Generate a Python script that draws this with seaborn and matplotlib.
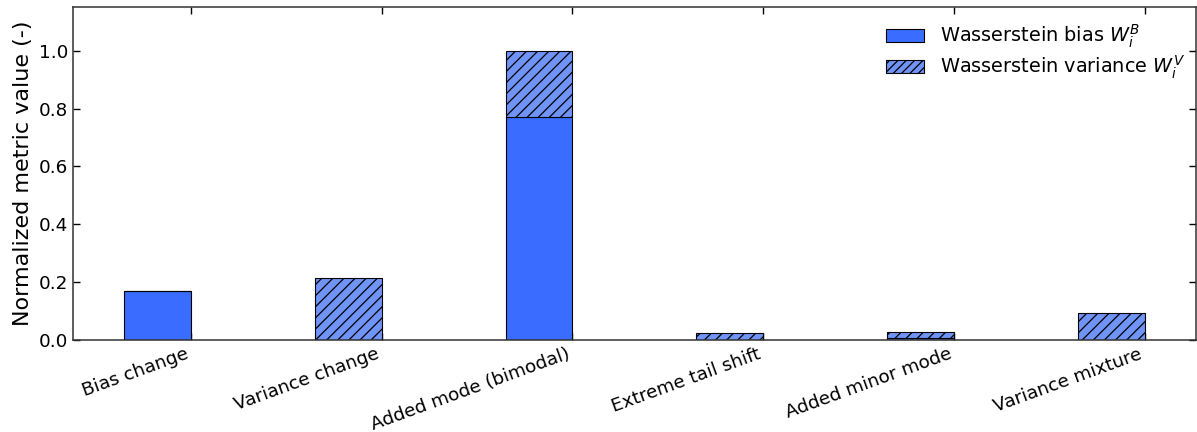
import numpy as np
import pandas as pd
import matplotlib
matplotlib.use("Agg")
import matplotlib.pyplot as plt
from matplotlib.patches import Patch
import seaborn as sns

# Scenario names and normalized Wasserstein components
scenarios = ["Bias change", "Variance change", "Added mode (bimodal)",
             "Extreme tail shift", "Added minor mode", "Variance mixture"]
bias_part = [0.170, 0.000, 0.770, 0.000, 0.006, 0.000]
variance_part = [0.000, 0.215, 0.230, 0.024, 0.021, 0.094]
y_ticks = [0.0, 0.2, 0.4, 0.6, 0.8, 1.0]

bias_color = "#3a6dff"
var_color = "#6f93f7"
bar_width = 0.35

sns.set_style("ticks")
plt.rcParams["font.family"] = ["DejaVu Sans"]
plt.rcParams["hatch.linewidth"] = 0.9
plt.rcParams["hatch.color"] = "#1a1a2e"
plt.rcParams["text.color"] = "black"
plt.rcParams["axes.labelcolor"] = "black"
plt.rcParams["xtick.color"] = "black"
plt.rcParams["ytick.color"] = "black"

pos = np.arange(len(scenarios))
df = pd.DataFrame({
    "pos": pos - bar_width / 2,
    "bias": bias_part,
    "variance": variance_part,
})

fig, ax = plt.subplots(figsize=(11.97, 4.32), dpi=100)
fig.subplots_adjust(left=0.061, right=0.999, top=0.983, bottom=0.213)

sns.barplot(data=df, x="pos", y="bias", native_scale=True, width=bar_width,
            color=bias_color, saturation=1, edgecolor="black", linewidth=0.8,
            errorbar=None, ax=ax)
sns.barplot(data=df, x="pos", y="variance", native_scale=True, width=bar_width,
            color=var_color, saturation=1, edgecolor="black", linewidth=0.8,
            hatch="///", bottom=df["bias"].values, errorbar=None, ax=ax)

ax.set_xticks(pos)
ax.set_xticklabels(scenarios, rotation=20, ha="right", fontsize=13.2)
ax.set_yticks(y_ticks)
ax.set_yticklabels([f"{v:.1f}" for v in y_ticks], fontsize=13.2)
ax.set_ylim(0, 1.15)
ax.set_xlabel("")
ax.set_ylabel("Normalized metric value (-)", fontsize=16)

ax.tick_params(direction="in", top=True, right=True, length=5, width=1)
for side in ["left", "right", "top", "bottom"]:
    ax.spines[side].set_visible(True)
    ax.spines[side].set_linewidth(1.1)
    ax.spines[side].set_color("#333333")

handles = [
    Patch(facecolor=bias_color, edgecolor="black", linewidth=0.8),
    Patch(facecolor=var_color, edgecolor="black", linewidth=0.8, hatch="////"),
]
labels = [r"Wasserstein bias $W_i^B$", r"Wasserstein variance $W_i^V$"]
ax.legend(handles, labels, loc="upper right", bbox_to_anchor=(0.997, 0.978),
          frameon=False, fontsize=13.9, handlelength=2.0, handleheight=0.7,
          handletextpad=0.8, labelspacing=0.2, borderaxespad=0.0)

fig.savefig("out.png", dpi=100)
